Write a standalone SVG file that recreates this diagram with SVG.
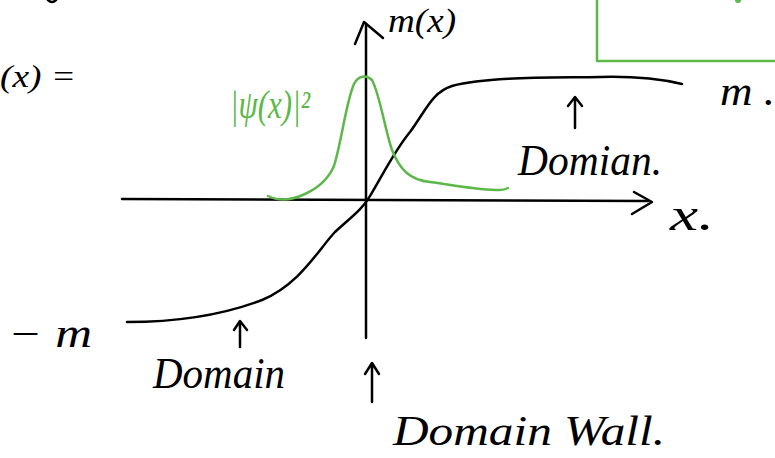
<svg xmlns="http://www.w3.org/2000/svg" width="775" height="458" viewBox="0 0 775 458">
<style>
.k{fill:none;stroke:#000;stroke-width:2.5;stroke-linecap:round;stroke-linejoin:round}
.g{fill:none;stroke:#5cb848;stroke-width:2.5;stroke-linecap:round;stroke-linejoin:round}
.t{font-family:"Liberation Serif",serif;font-style:italic;fill:#000}
.tg{font-family:"Liberation Serif",serif;font-style:italic;fill:#5cb848}
</style>
<rect width="775" height="458" fill="#fff"/>
<g id="frame">
<path class="g" d="M597,0 L597,61 L775,61"/>
<circle cx="738" cy="0" r="3" fill="#5cb848"/>
<path class="k" d="M48,0 Q52,4 56,0"/>
</g>
<g id="axes">
<path class="k" d="M122,199 L648,201"/>
<path class="k" d="M634,192 L652,202 L632,214"/>
<path class="k" d="M366,24 L366,338"/>
<path class="k" d="M355,44 L364,22 L383,38"/>
</g>
<g id="curves">
<path class="k" d="M127,322 C170,322 220,316 262,300 C300,284 318,250 335,232 C350,218 362,210 370,196 C382,176 395,150 410,132 C425,112 432,92 452,86 C490,76 560,78 600,77 C640,76 665,80 682,84"/>
<path class="g" d="M268,196 C276,200 288,202 305,194 C318,188 328,180 334,166 C342,140 346,102 354,84 C358,76 366,74 372,80 C380,95 385,130 392,150 C400,170 410,180 430,182 C460,186 480,190 500,190 C504,190 506,189 508,188"/>
</g>
<g id="arrows">
<path class="k" d="M575,128 L575,98 M568,106 L575,97 L582,106"/>
<path class="k" d="M240,347 L240,322 M234,330 L240,321 L247,330"/>
<path class="k" d="M372,402 L372,364 M365,374 L372,363 L379,374"/>
</g>
<g id="labels">
<text class="t" x="388" y="32" font-size="34" textLength="68" lengthAdjust="spacingAndGlyphs">m(x)</text>
<text class="tg" x="230" y="118" font-size="40" textLength="80" lengthAdjust="spacingAndGlyphs">|ψ(x)|²</text>
<text class="t" x="0" y="87" font-size="32" textLength="76" lengthAdjust="spacingAndGlyphs">(x) =</text>
<text class="t" x="720" y="105" font-size="42" textLength="55" lengthAdjust="spacingAndGlyphs">m .</text>
<text class="t" x="518" y="175" font-size="44" textLength="144" lengthAdjust="spacingAndGlyphs">Domian.</text>
<text class="t" x="670" y="230" font-size="46" textLength="44" lengthAdjust="spacingAndGlyphs">x.</text>
<text class="t" x="8" y="347" font-size="40" textLength="84" lengthAdjust="spacingAndGlyphs">− m</text>
<text class="t" x="153" y="388" font-size="44" textLength="132" lengthAdjust="spacingAndGlyphs">Domain</text>
<text class="t" x="393" y="445" font-size="42" textLength="272" lengthAdjust="spacingAndGlyphs">Domain  Wall.</text>
</g>
</svg>
